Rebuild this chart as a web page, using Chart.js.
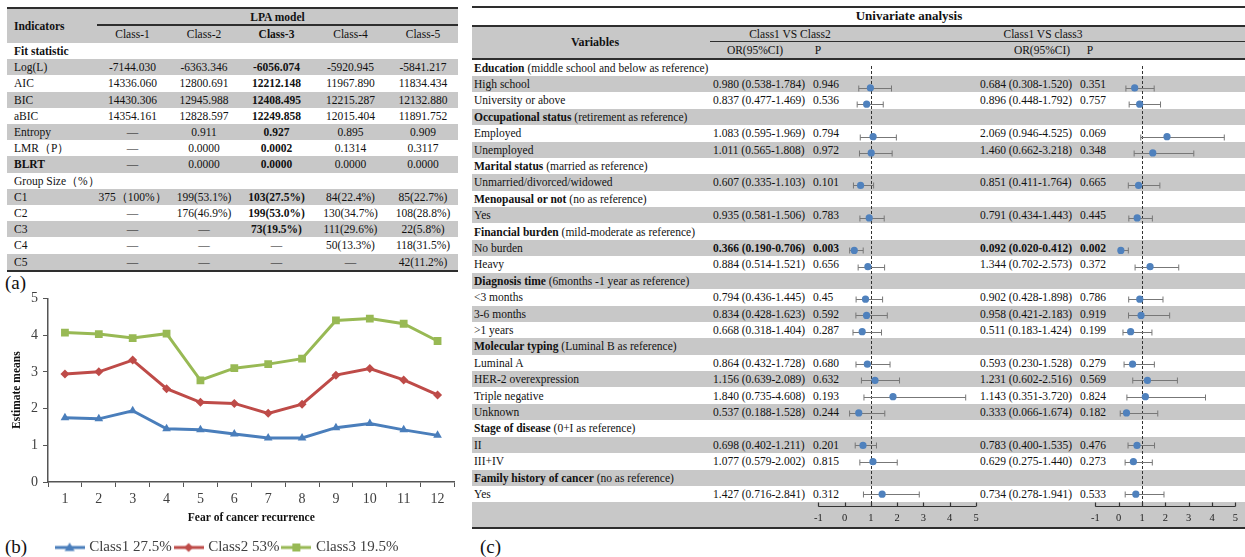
<!DOCTYPE html>
<html>
<head>
<meta charset="utf-8">
<script src="https://cdn.jsdelivr.net/npm/chart.js@4.4.1/dist/chart.umd.min.js"></script>
<style>
  html, body { margin: 0; padding: 0; background: #fff; }
  body {
    width: 1245px; height: 557px; position: relative; overflow: hidden;
    font-family: "Liberation Serif", "Times New Roman", serif; color: #111;
  }
  #board div { position: absolute; white-space: nowrap; font-size: 11.5px; }
  .tag { font-size: 19px !important; }
  .holder { position: absolute; }
</style>
</head>
<body>
<div id="board"></div>
<div class="holder" style="left:0;top:285px;width:460px;height:280px"><canvas id="lineChart"></canvas></div>
<div class="holder" style="left:808px;top:59px;width:178px;height:468px"><canvas id="forest12"></canvas></div>
<div class="holder" style="left:1085px;top:59px;width:159px;height:468px"><canvas id="forest13"></canvas></div>
<script>
const FONT = '"Liberation Serif", "Times New Roman", serif';
const GRAY = "#c8c8c8";
const RULE = "#2e2e2e";

// ---- (a) LPA model fit ----
const lpaClasses = ["Class-1", "Class-2", "Class-3", "Class-4", "Class-5"];
const chosenModel = 2; // Class-3 printed bold
const logL = ["-7144.030", "-6363.346", "-6056.074", "-5920.945", "-5841.217"];
const aic = ["14336.060", "12800.691", "12212.148", "11967.890", "11834.434"];
const bic = ["14430.306", "12945.988", "12408.495", "12215.287", "12132.880"];
const abic = ["14354.161", "12828.597", "12249.858", "12015.404", "11891.752"];
const entropy = ["—", "0.911", "0.927", "0.895", "0.909"];
const lmrP = ["—", "0.0000", "0.0002", "0.1314", "0.3117"];
const blrt = ["—", "0.0000", "0.0000", "0.0000", "0.0000"];
const sizeC1 = ["375（100%）", "199(53.1%)", "103(27.5%)", "84(22.4%)", "85(22.7%)"];
const sizeC2 = ["—", "176(46.9%)", "199(53.0%)", "130(34.7%)", "108(28.8%)"];
const sizeC3 = ["—", "—", "73(19.5%)", "111(29.6%)", "22(5.8%)"];
const sizeC4 = ["—", "—", "—", "50(13.3%)", "118(31.5%)"];
const sizeC5 = ["—", "—", "—", "—", "42(11.2%)"];

// ---- (b) profile means ----
const fcrItems = ["1", "2", "3", "4", "5", "6", "7", "8", "9", "10", "11", "12"];
const class1Means = [1.75, 1.72, 1.94, 1.45, 1.42, 1.31, 1.20, 1.20, 1.48, 1.59, 1.42, 1.27];
const class2Means = [2.94, 3.00, 3.32, 2.54, 2.17, 2.14, 1.87, 2.12, 2.91, 3.09, 2.78, 2.37];
const class3Means = [4.07, 4.03, 3.92, 4.04, 2.77, 3.10, 3.21, 3.36, 4.40, 4.45, 4.31, 3.84];
const yTicks = [0, 1, 2, 3, 4, 5];

// ---- (c) univariate analysis ----
const groupNames = ["Education", "Occupational status", "Marital status", "Menopausal or not",
  "Financial burden", "Diagnosis time", "Molecular typing", "Stage of disease", "Family history of cancer"];
const groupNotes = ["(middle school and below as reference)", "(retirement as reference)",
  "(married as reference)", "(no as reference)", "(mild-moderate as reference)",
  "(6months -1 year as reference)", "(Luminal B as reference)", "(0+I as reference)", "(no as reference)"];
const groupCounts = [2, 2, 1, 1, 2, 3, 4, 2, 1];
const itemLabels = ["High school", "University or above", "Employed", "Unemployed",
  "Unmarried/divorced/widowed", "Yes", "No burden", "Heavy", "<3 months", "3-6 months", ">1 years",
  "Luminal A", "HER-2 overexpression", "Triple negative", "Unknown", "II", "III+IV", "Yes"];
const or12 = [0.980, 0.837, 1.083, 1.011, 0.607, 0.935, 0.366, 0.884, 0.794, 0.834, 0.668, 0.864, 1.156, 1.840, 0.537, 0.698, 1.077, 1.427];
const lo12 = [0.538, 0.477, 0.595, 0.565, 0.335, 0.581, 0.190, 0.514, 0.436, 0.428, 0.318, 0.432, 0.639, 0.735, 0.188, 0.402, 0.579, 0.716];
const hi12 = [1.784, 1.469, 1.969, 1.808, 1.103, 1.506, 0.706, 1.521, 1.445, 1.623, 1.404, 1.728, 2.089, 4.608, 1.528, 1.211, 2.002, 2.841];
const p12 = ["0.946", "0.536", "0.794", "0.972", "0.101", "0.783", "0.003", "0.656", "0.45", "0.592", "0.287", "0.680", "0.632", "0.193", "0.244", "0.201", "0.815", "0.312"];
const or13 = [0.684, 0.896, 2.069, 1.460, 0.851, 0.791, 0.092, 1.344, 0.902, 0.958, 0.511, 0.593, 1.231, 1.143, 0.333, 0.783, 0.629, 0.734];
const lo13 = [0.308, 0.448, 0.946, 0.662, 0.411, 0.434, 0.020, 0.702, 0.428, 0.421, 0.183, 0.230, 0.602, 0.351, 0.066, 0.400, 0.275, 0.278];
const hi13 = [1.520, 1.792, 4.525, 3.218, 1.764, 1.443, 0.412, 2.573, 1.898, 2.183, 1.424, 1.528, 2.516, 3.720, 1.674, 1.535, 1.440, 1.941];
const p13 = ["0.351", "0.757", "0.069", "0.348", "0.665", "0.445", "0.002", "0.372", "0.786", "0.919", "0.199", "0.279", "0.569", "0.824", "0.182", "0.476", "0.273", "0.533"];
const forestTicks = [-1, 0, 1, 2, 3, 4, 5];

// ---------- helpers ----------
const board = document.getElementById("board");

function box(left, top, width, height, bg) {
  const el = document.createElement("div");
  Object.assign(el.style, { left: left + "px", top: top + "px", width: width + "px", height: height + "px", background: bg });
  board.appendChild(el);
  return el;
}

function text(str, left, top, width, height, opts = {}) {
  const el = document.createElement("div");
  Object.assign(el.style, {
    left: left + "px", top: top + "px", width: width + "px", height: height + "px",
    lineHeight: height + "px", textAlign: opts.align || "left",
    fontWeight: opts.bold ? "bold" : "normal"
  });
  if (opts.size) el.style.fontSize = opts.size + "px";
  if (opts.className) el.className = opts.className;
  el.textContent = str;
  board.appendChild(el);
  return el;
}

// ---------- table (a) ----------
const aLeft = 7, aRight = 458, aHeadBottom = 43, aRowH = 16.2;
const aColLefts = [97, 168, 240, 313, 388];
const aColWidths = [71, 72, 73, 75, 70];

box(aLeft, 8.5, aRight - aLeft, aHeadBottom - 8.5, GRAY);
box(aLeft, 6.5, aRight - aLeft, 2, RULE);
text("Indicators", 14, 8.5, 80, aHeadBottom - 8.5, { bold: true });
text("LPA model", 97, 8.5, aRight - 97, 16, { bold: true, align: "center" });
box(97, 24.3, aRight - 97, 1.4, RULE);
lpaClasses.forEach((c, i) => {
  text(c, aColLefts[i], 25.7, aColWidths[i], 17, { align: "center", bold: i === chosenModel });
});

const aRows = [
  { name: "Fit statistic", bold: true },
  { name: "Log(L)", vals: logL },
  { name: "AIC", vals: aic },
  { name: "BIC", vals: bic },
  { name: "aBIC", vals: abic },
  { name: "Entropy", vals: entropy },
  { name: "LMR（P）", vals: lmrP },
  { name: "BLRT", vals: blrt, bold: true },
  { name: "Group Size（%）" },
  { name: "C1", vals: sizeC1 },
  { name: "C2", vals: sizeC2 },
  { name: "C3", vals: sizeC3 },
  { name: "C4", vals: sizeC4 },
  { name: "C5", vals: sizeC5 }
];
aRows.forEach((row, r) => {
  const top = aHeadBottom + r * aRowH;
  if (r % 2 === 1) box(aLeft, top, aRight - aLeft, aRowH, GRAY);
  text(row.name, 14, top, 80, aRowH, { bold: row.bold });
  (row.vals || []).forEach((v, i) => {
    text(v, aColLefts[i], top, aColWidths[i], aRowH, { align: "center", bold: i === chosenModel && v !== "—" });
  });
});
box(aLeft, aHeadBottom + aRows.length * aRowH, aRight - aLeft, 2, RULE);

// ---------- table (c) ----------
const cLeft = 472, cRight = 1245, cW = cRight - cLeft;
const cBodyTop = 59.5, cRowH = 16.4;
box(cLeft, 6, cW, 2, RULE);
text("Univariate analysis", 800, 8, 218, 16.5, { bold: true, align: "center", size: 13 });
box(cLeft, 24.5, cW, 2, RULE);
box(cLeft, 26.5, cW, 31, GRAY);
text("Variables", cLeft, 26.5, 246, 31, { bold: true, align: "center", size: 12 });
text("Class1 VS Class2", 700, 27, 180, 14, { align: "center" });
text("Class1 VS class3", 953, 27, 180, 14, { align: "center" });
box(710, 41.3, cRight - 710, 1.2, RULE);
text("OR(95%CI)", 705, 43, 100, 14, { align: "center" });
text("P", 808, 43, 20, 14, { align: "center" });
text("OR(95%CI)", 992, 43, 100, 14, { align: "center" });
text("P", 1080, 43, 20, 14, { align: "center" });
box(cLeft, 57.5, cW, 2, RULE);

const fmt = (v) => v.toFixed(3);
const cRows = [];
let item = 0;
groupNames.forEach((g, gi) => {
  cRows.push({ head: g, note: groupNotes[gi] });
  for (let k = 0; k < groupCounts[gi]; k++) cRows.push({ idx: item++ });
});

const pts12 = [], pts13 = [];
cRows.forEach((row, r) => {
  const top = cBodyTop + r * cRowH;
  if (r % 2 === 1) box(cLeft, top, cW, cRowH, GRAY);
  if (row.head) {
    const el = text("", 474, top, 330, cRowH);
    const b = document.createElement("b");
    b.textContent = row.head;
    el.appendChild(b);
    el.appendChild(document.createTextNode(" " + row.note));
    return;
  }
  const i = row.idx;
  text(itemLabels[i], 474, top, 230, cRowH);
  const sig12 = parseFloat(p12[i]) < 0.05;
  const sig13 = parseFloat(p13[i]) < 0.05;
  text(`${fmt(or12[i])} (${fmt(lo12[i])}-${fmt(hi12[i])})`, 713, top, 100, cRowH, { bold: sig12 });
  text(p12[i], 813, top, 30, cRowH, { bold: sig12 });
  text(`${fmt(or13[i])} (${fmt(lo13[i])}-${fmt(hi13[i])})`, 980, top, 100, cRowH, { bold: sig13 });
  text(p13[i], 1080, top, 30, cRowH, { bold: sig13 });
  pts12.push({ x: or12[i], y: r, lo: lo12[i], hi: hi12[i] });
  pts13.push({ x: or13[i], y: r, lo: lo13[i], hi: hi13[i] });
});
const axisRowTop = cBodyTop + cRows.length * cRowH;
box(cLeft, axisRowTop, cW, 25, GRAY);
box(cLeft, axisRowTop + 25, cW, 2, RULE);

text("(a)", 5, 271, 30, 24, { className: "tag" });
text("(b)", 5, 535, 30, 24, { className: "tag" });
text("(c)", 480, 535, 30, 24, { className: "tag" });

// ---------- (b) line chart ----------
function legendIcon(color, shape) {
  const c = document.createElement("canvas");
  c.width = 30; c.height = 12;
  const g = c.getContext("2d");
  g.strokeStyle = color; g.lineWidth = 3;
  g.beginPath(); g.moveTo(0, 6); g.lineTo(30, 6); g.stroke();
  g.fillStyle = color;
  g.beginPath();
  if (shape === "triangle") { g.moveTo(15, 1); g.lineTo(20, 9.5); g.lineTo(10, 9.5); }
  else if (shape === "rectRot") { g.moveTo(15, 1.5); g.lineTo(19.5, 6); g.lineTo(15, 10.5); g.lineTo(10.5, 6); }
  else { g.rect(11, 2, 8, 8); }
  g.closePath(); g.fill();
  return c;
}

const seriesColors = ["#4a7ebb", "#be4b48", "#98b954"];
const seriesShapes = ["triangle", "rectRot", "rect"];
const legendIcons = seriesColors.map((c, i) => legendIcon(c, seriesShapes[i]));

new Chart(document.getElementById("lineChart"), {
  type: "line",
  data: {
    labels: fcrItems,
    datasets: [
      { label: "Class1 27.5%", data: class1Means, pointRadius: 5 },
      { label: "Class2 53%", data: class2Means, pointRadius: 4.5 },
      { label: "Class3 19.5%", data: class3Means, pointRadius: 5.5 }
    ].map((ds, i) => ({
      ...ds,
      borderColor: seriesColors[i],
      backgroundColor: seriesColors[i],
      pointBackgroundColor: seriesColors[i],
      pointBorderWidth: 0,
      pointStyle: seriesShapes[i],
      borderWidth: 3,
      tension: 0
    }))
  },
  options: {
    responsive: true,
    maintainAspectRatio: false,
    animation: false,
    layout: { padding: { left: 0, right: 4, top: 13, bottom: 0 } },
    plugins: {
      tooltip: { enabled: false },
      legend: {
        position: "bottom",
        labels: {
          usePointStyle: true,
          pointStyleWidth: 24,
          padding: 5,
          color: "#404040",
          font: { family: FONT, size: 15 },
          generateLabels: (chart) =>
            Chart.defaults.plugins.legend.labels.generateLabels(chart).map((it, i) => ({ ...it, pointStyle: legendIcons[i] }))
        }
      }
    },
    scales: {
      x: {
        offset: true,
        grid: { display: true, drawOnChartArea: false, offset: true, tickLength: 5, color: "#555" },
        border: { color: "#555", width: 1.5 },
        ticks: { color: "#404040", font: { family: FONT, size: 14 }, padding: 4 },
        title: {
          display: true, text: "Fear of cancer recurrence", color: "#111",
          font: { family: FONT, size: 11.5, weight: "bold" }, padding: { top: 0, bottom: 10 }
        },
        afterFit: (s) => { s.height = 53; }
      },
      y: {
        min: 0, max: 5,
        afterBuildTicks: (s) => { s.ticks = yTicks.map((v) => ({ value: v })); },
        grid: { display: true, drawOnChartArea: false, tickLength: 5, color: "#555" },
        border: { color: "#555", width: 1.5 },
        ticks: { color: "#404040", font: { family: FONT, size: 14 }, padding: 5 },
        title: {
          display: true, text: "Estimate means", color: "#111",
          font: { family: FONT, size: 11.5, weight: "bold" }, padding: { top: 10, bottom: 0 }
        },
        afterFit: (s) => { s.width = 48; }
      }
    }
  }
});

// ---------- (c) forest plots ----------
const forestMarks = {
  id: "forestMarks",
  beforeDatasetsDraw(chart) {
    const { ctx, chartArea, scales: { x, y } } = chart;
    const ds = chart.data.datasets[0];
    ctx.save();
    const xRef = Math.round(x.getPixelForValue(1)) + 0.5;
    ctx.strokeStyle = "#333";
    ctx.lineWidth = 1;
    ctx.setLineDash([3, 2]);
    ctx.beginPath();
    ctx.moveTo(xRef, chartArea.top + 3);
    ctx.lineTo(xRef, chartArea.bottom);
    ctx.stroke();
    ctx.setLineDash([]);
    ctx.strokeStyle = "#777";
    ds.data.forEach((pt) => {
      const py = Math.round(y.getPixelForValue(pt.y)) + 0.5;
      const xl = x.getPixelForValue(pt.lo), xh = x.getPixelForValue(pt.hi);
      ctx.beginPath();
      ctx.moveTo(xl, py); ctx.lineTo(xh, py);
      ctx.moveTo(xl, py - 3); ctx.lineTo(xl, py + 3);
      ctx.moveTo(xh, py - 3); ctx.lineTo(xh, py + 3);
      ctx.stroke();
    });
    // bottom axis with upward ticks
    const yb = Math.round(chartArea.bottom) + 0.5;
    ctx.strokeStyle = "#333";
    ctx.lineWidth = 1.2;
    ctx.beginPath();
    ctx.moveTo(x.getPixelForValue(forestTicks[0]), yb);
    ctx.lineTo(x.getPixelForValue(forestTicks[forestTicks.length - 1]), yb);
    forestTicks.forEach((t) => {
      const px = Math.round(x.getPixelForValue(t)) + 0.5;
      ctx.moveTo(px, yb); ctx.lineTo(px, yb - 4);
    });
    ctx.stroke();
    ctx.restore();
  }
};

const forestTop = 59;
const plotH = 447;
const yMin = -(cBodyTop + cRowH / 2 - forestTop) / cRowH;
const yMax = yMin + plotH / cRowH;

function forest(id, points, padRight) {
  new Chart(document.getElementById(id), {
    type: "scatter",
    data: {
      datasets: [{
        data: points,
        backgroundColor: "#4f81bd",
        pointRadius: 3.6,
        pointBorderWidth: 0
      }]
    },
    options: {
      responsive: true,
      maintainAspectRatio: false,
      animation: false,
      layout: { padding: { left: 10, right: padRight, top: 0, bottom: 0 } },
      plugins: { legend: { display: false }, tooltip: { enabled: false } },
      scales: {
        x: {
          type: "linear",
          min: forestTicks[0],
          max: forestTicks[forestTicks.length - 1],
          afterBuildTicks: (s) => { s.ticks = forestTicks.map((v) => ({ value: v })); },
          grid: { display: false, drawTicks: false },
          border: { display: false },
          ticks: { color: "#222", font: { family: FONT, size: 10.5 }, padding: 6 },
          afterFit: (s) => { s.height = 21; }
        },
        y: { type: "linear", display: false, reverse: true, min: yMin, max: yMax }
      }
    },
    plugins: [forestMarks]
  });
}

forest("forest12", pts12, 10);
forest("forest13", pts13, 6);
</script>
</body>
</html>
